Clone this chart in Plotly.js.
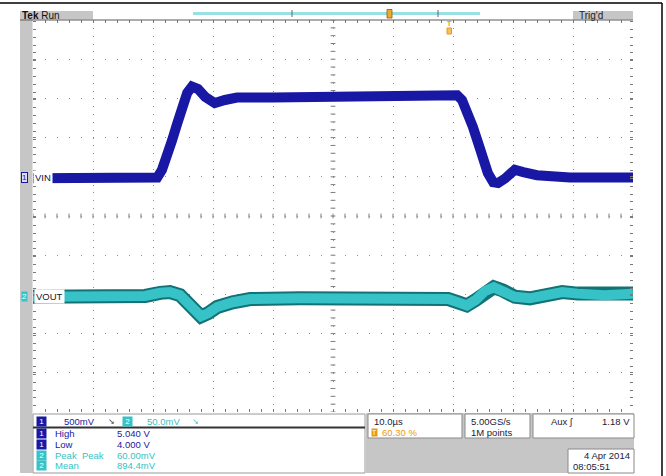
<!DOCTYPE html>
<html>
<head>
<meta charset="utf-8">
<script src="https://cdn.plot.ly/plotly-3.0.1.min.js"></script>
<style>html,body{margin:0;padding:0;background:#fff;}#chart{width:666px;height:476px;}</style>
</head>
<body>
<div id="chart"></div>
<script>
// ---- Data ----
// Channel 1 (VIN), time in µs (10 µs/div), volts (500 mV/div)
var vinTime = [0, 10, 20, 20.7, 21.5, 22.3, 23.2, 24.0, 24.8, 25.7, 26.5, 27.5, 28.7, 30.3, 32.0, 34.0, 40, 50, 60, 64.5, 70.7, 71.5, 72.3, 73.3, 74.2, 75.0, 75.8, 76.7, 77.5, 78.7, 80.3, 81.7, 84.0, 89.5, 100];
var vinVolts = [4.00, 4.00, 4.00, 4.01, 4.11, 4.26, 4.49, 4.69, 4.90, 5.09, 5.17, 5.14, 5.04, 4.96, 5.00, 5.03, 5.03, 5.04, 5.05, 5.05, 5.06, 5.00, 4.87, 4.66, 4.45, 4.23, 4.07, 3.95, 3.94, 4.00, 4.11, 4.08, 4.04, 4.01, 4.01];
// Channel 2 (VOUT), volts (50 mV/div)
var voutTime = [0, 11.2, 18.7, 21.2, 22.8, 24.5, 25.8, 27.0, 28.0, 29.2, 30.7, 33.3, 36.2, 44.5, 52.8, 61.2, 69.2, 70.8, 72.3, 73.8, 75.3, 76.8, 78.3, 80.3, 82.8, 85.8, 88.2, 90.8, 95.3, 100];
var voutVolts = [0.897, 0.897, 0.898, 0.902, 0.903, 0.899, 0.889, 0.878, 0.872, 0.876, 0.884, 0.890, 0.894, 0.895, 0.895, 0.894, 0.894, 0.890, 0.886, 0.893, 0.904, 0.909, 0.905, 0.897, 0.895, 0.899, 0.903, 0.901, 0.899, 0.901];

// Readouts
var ch1Scale = "500mV", ch2Scale = "50.0mV";
var measNames = ["High", "Low", "Peak  Peak", "Mean"];
var measValues = ["5.040 V", "4.000 V", "60.00mV", "894.4mV"];
var measChannels = [1, 1, 2, 2];
var timeBase = "10.0µs", trigPos = "60.30 %", sampleRate = "5.00GS/s", recLen = "1M points";
var trigSource = "Aux ʃ", trigLevel = "1.18 V", dateStr = "4 Apr 2014", timeStr = "08:05:51";

// ---- Layout helpers (pixel -> paper) ----
var L = 33, R = 633, T = 20, B = 412;
function PX(x){ return (x - L) / (R - L); }
function PY(y){ return (B - y) / (B - T); }

var blue = '#1818a4', cyan = '#36c2c6', cyanDark = '#127276', orange = '#e89a10';
var font = 'Liberation Sans, Arial, sans-serif';

var ch1Center = 3.52, ch2Center = 1.0;

var traces = [
  {x: voutTime, y: voutVolts, yaxis: 'y2', mode: 'lines', line: {color: cyanDark, width: 14}, hoverinfo: 'skip'},
  {x: voutTime, y: voutVolts, yaxis: 'y2', mode: 'lines', line: {color: cyan, width: 10}, hoverinfo: 'skip'},
  {x: vinTime, y: vinVolts, mode: 'lines', line: {color: blue, width: 10}, hoverinfo: 'skip'}
];

var shapes = [];
function rectPx(x0, y0, x1, y1, fill, lineColor, lw, layer){
  shapes.push({type: 'rect', xref: 'paper', yref: 'paper', x0: PX(x0), x1: PX(x1), y0: PY(y0), y1: PY(y1),
    fillcolor: fill, line: {color: lineColor || fill, width: lw || 0}, layer: layer || 'above'});
}
function linePx(x0, y0, x1, y1, color, w){
  shapes.push({type: 'line', xref: 'paper', yref: 'paper', x0: PX(x0), x1: PX(x1), y0: PY(y0), y1: PY(y1),
    line: {color: color, width: w}, layer: 'above'});
}
// frame
linePx(0, 3, 662, 3, '#000', 1.5);
linePx(662, 3, 662, 476, '#000', 1.5);
// left gray strip & header
rectPx(20, 11, 32.5, 473, '#c6c6c6', null, 0, 'below');
rectPx(20, 11, 93, 19.5, '#c6c6c6', null, 0, 'below');
rectPx(573, 11, 633, 19.5, '#c6c6c6', null, 0, 'below');
linePx(20, 20, 633, 20, '#5a5a5a', 1);
// record view bar
linePx(193, 13.5, 480, 13.5, '#98e0e4', 3);
linePx(292, 10, 292, 17, '#666', 1);
linePx(438, 10, 438, 17, '#666', 1);
rectPx(387, 9.5, 392, 18, '#f0a830', '#8a5a00', 0.8);
// trigger position marker (lower part)
rectPx(447, 28, 451.5, 34, '#f6c060', orange, 1);
// bottom panels
rectPx(33, 414, 365, 473, '#ffffff', '#9a9a9a', 1);
linePx(33, 427.5, 365, 427.5, '#333', 2);
rectPx(366, 413, 634, 473, '#c6c6c6', null, 0);
rectPx(368, 414, 462, 438, '#ffffff', '#8a8a8a', 1);
rectPx(465, 414, 530, 438, '#ffffff', '#8a8a8a', 1);
rectPx(533, 414, 634, 438, '#ffffff', '#8a8a8a', 1);
rectPx(568, 449, 634, 473, '#ffffff', '#8a8a8a', 1);
// center cross tick marks
for (var k = 0; k <= 50; k++) {
  shapes.push({type: 'line', xref: 'x', yref: 'y', x0: 2 * k, x1: 2 * k, y0: ch1Center - 0.03, y1: ch1Center + 0.03, line: {color: '#7a7a7a', width: 1}, layer: 'below'});
  var v = 1.02 + 0.1 * k;
  shapes.push({type: 'line', xref: 'x', yref: 'y', x0: 49.6, x1: 50.4, y0: v, y1: v, line: {color: '#7a7a7a', width: 1}, layer: 'below'});
}

var ann = [];
function txt(x, y, text, color, size, opts){
  var a = {xref: 'paper', yref: 'paper', x: PX(x), y: PY(y), text: text, showarrow: false,
    xanchor: 'left', yanchor: 'middle', font: {family: font, size: size || 9.5, color: color}};
  if (opts) for (var k in opts) a[k] = opts[k];
  ann.push(a);
}
function pill(x, y, label, bg){
  txt(x, y, '&nbsp;' + label + '&nbsp;', '#ffffff', 8, {bgcolor: bg, borderpad: 0});
}
txt(20, 15, '<b>Tek</b> Run', '#111', 10);
txt(577, 15, "Trig'd", '#222', 10);
txt(449.3, 23, '<b>T</b>', orange, 7, {xanchor: 'center'});
// channel markers
txt(20.5, 178, '1', blue, 8, {bgcolor: '#dcdcf4', bordercolor: blue, borderwidth: 1, borderpad: 0});
txt(33, 178, 'VIN', '#101040', 9.5, {bgcolor: '#ffffff'});
txt(20.5, 296, '2', '#ffffff', 8, {bgcolor: cyan, borderpad: 0});
txt(34, 296, 'VOUT', '#102030', 9.5, {bgcolor: '#ffffff'});
// vertical settings row
pill(36, 421, '1', blue);
txt(62, 421, ch1Scale, blue, 9.5);
txt(106, 421, '↘', '#333', 8);
pill(122, 421, '2', cyan);
txt(145, 421, ch2Scale, cyan, 9.5);
txt(190, 421, '↘', cyan, 8);
// measurements
var rowsY = [434, 444.5, 455, 465.5];
for (var i = 0; i < measNames.length; i++) {
  var c = measChannels[i] === 1 ? blue : cyan;
  pill(36, rowsY[i], String(measChannels[i]), c);
  txt(53, rowsY[i], measNames[i], c, 9.5);
  txt(115, rowsY[i], measValues[i], c, 9.5);
}
// right readouts
txt(372, 421, timeBase, '#1a1a3a', 9.5);
txt(371, 432, 'T', '#ffffff', 7, {bgcolor: orange, borderpad: 0});
txt(380, 432, trigPos, orange, 9.5);
txt(469, 421, sampleRate, '#1a1a3a', 9.5);
txt(469, 432, recLen, '#1a1a3a', 9.5);
txt(549, 421, trigSource, '#1a1a3a', 9.5);
txt(632, 421, trigLevel, '#1a1a3a', 9.5, {xanchor: 'right'});
txt(632, 455, dateStr, '#1a1a3a', 9.5, {xanchor: 'right'});
txt(571, 466, timeStr, '#1a1a3a', 9.5);

var layout = {
  width: 666, height: 476, autosize: false,
  margin: {l: L, r: 666 - R, t: T, b: 476 - B, pad: 0},
  paper_bgcolor: '#ffffff', plot_bgcolor: '#ffffff', showlegend: false,
  font: {family: font},
  xaxis: {range: [0, 100], tick0: 0, dtick: 10, showgrid: true, gridcolor: '#8c8c8c', gridwidth: 1, griddash: '1px,6.84px',
    ticks: 'inside', ticklen: 3, tickcolor: '#7a7a7a', mirror: 'ticks', showline: false, zeroline: false, showticklabels: false,
    minor: {dtick: 2, ticks: 'inside', ticklen: 3, tickcolor: '#7a7a7a', showgrid: false}, fixedrange: true},
  yaxis: {range: [ch1Center - 2.5, ch1Center + 2.5], tick0: ch1Center - 2.5, dtick: 0.5, showgrid: true, gridcolor: '#8c8c8c', gridwidth: 1, griddash: '1px,11px',
    ticks: 'inside', ticklen: 3, tickcolor: '#7a7a7a', mirror: 'ticks', showline: false, zeroline: false, showticklabels: false,
    minor: {dtick: 0.1, ticks: 'inside', ticklen: 3, tickcolor: '#7a7a7a', showgrid: false}, fixedrange: true},
  yaxis2: {range: [ch2Center - 0.25, ch2Center + 0.25], overlaying: 'y', visible: false, fixedrange: true},
  shapes: shapes,
  annotations: ann
};
Plotly.newPlot('chart', traces, layout, {staticPlot: true, displayModeBar: false});
</script>
</body>
</html>
